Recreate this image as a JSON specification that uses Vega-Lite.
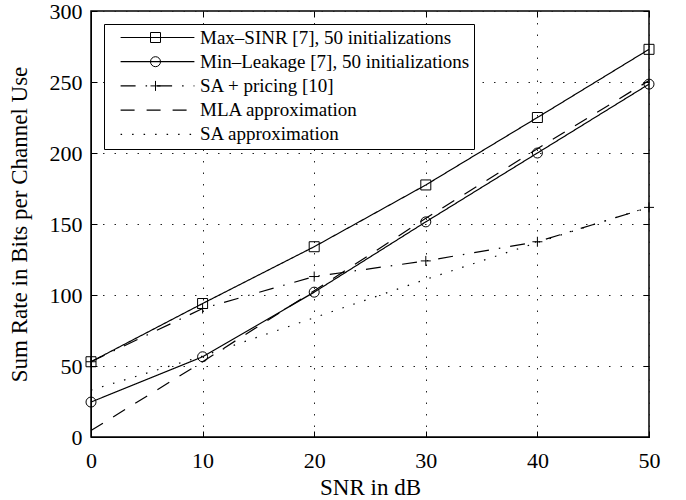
{
  "$schema": "https://vega.github.io/schema/vega-lite/v6.json",
  "width": 558,
  "height": 426,
  "autosize": "none",
  "padding": {"left": 91, "top": 11, "right": 37, "bottom": 63},
  "background": "white",
  "config": {
    "view": {"stroke": "black", "strokeWidth": 1.5},
    "font": "Liberation Serif",
    "axis": {
      "labelFont": "Liberation Serif",
      "titleFont": "Liberation Serif",
      "labelFontSize": 22,
      "titleFontSize": 23,
      "titleFontWeight": "normal",
      "labelColor": "black",
      "titleColor": "black",
      "domainColor": "black",
      "tickColor": "black",
      "tickWidth": 1,
      "labelFlush": false,
      "gridColor": "#222222",
      "gridOpacity": 1,
      "gridDash": [1.5, 10],
      "gridWidth": 1
    }
  },
  "data": {
    "values": [
      {"series": "Max–SINR [7], 50 initializations", "snr": 0, "rate": 53},
      {"series": "Max–SINR [7], 50 initializations", "snr": 10, "rate": 94},
      {"series": "Max–SINR [7], 50 initializations", "snr": 20, "rate": 134},
      {"series": "Max–SINR [7], 50 initializations", "snr": 30, "rate": 177.5},
      {"series": "Max–SINR [7], 50 initializations", "snr": 40, "rate": 225},
      {"series": "Max–SINR [7], 50 initializations", "snr": 50, "rate": 273},
      {"series": "Min–Leakage [7], 50 initializations", "snr": 0, "rate": 24.6},
      {"series": "Min–Leakage [7], 50 initializations", "snr": 10, "rate": 56.5},
      {"series": "Min–Leakage [7], 50 initializations", "snr": 20, "rate": 102},
      {"series": "Min–Leakage [7], 50 initializations", "snr": 30, "rate": 151.5},
      {"series": "Min–Leakage [7], 50 initializations", "snr": 40, "rate": 200},
      {"series": "Min–Leakage [7], 50 initializations", "snr": 50, "rate": 248.5},
      {"series": "SA + pricing [10]", "snr": 0, "rate": 53},
      {"series": "SA + pricing [10]", "snr": 10, "rate": 90.5},
      {"series": "SA + pricing [10]", "snr": 20, "rate": 113},
      {"series": "SA + pricing [10]", "snr": 30, "rate": 124},
      {"series": "SA + pricing [10]", "snr": 40, "rate": 137.5},
      {"series": "SA + pricing [10]", "snr": 50, "rate": 161.7},
      {"series": "MLA approximation", "snr": 0, "rate": 4.5},
      {"series": "MLA approximation", "snr": 10, "rate": 53},
      {"series": "MLA approximation", "snr": 20, "rate": 103},
      {"series": "MLA approximation", "snr": 30, "rate": 154},
      {"series": "MLA approximation", "snr": 40, "rate": 203},
      {"series": "MLA approximation", "snr": 50, "rate": 251},
      {"series": "SA approximation", "snr": 0, "rate": 33},
      {"series": "SA approximation", "snr": 10, "rate": 57},
      {"series": "SA approximation", "snr": 20, "rate": 84},
      {"series": "SA approximation", "snr": 30, "rate": 111},
      {"series": "SA approximation", "snr": 40, "rate": 137},
      {"series": "SA approximation", "snr": 50, "rate": 162}
    ]
  },
  "layer": [
    {
      "mark": {"type": "line", "color": "black", "strokeWidth": 1.2},
      "encoding": {
        "x": {
          "field": "snr", "type": "quantitative",
          "scale": {"domain": [0, 50], "nice": false, "zero": false},
          "axis": {
            "orient": "bottom", "title": "SNR in dB",
            "values": [0, 10, 20, 30, 40, 50],
            "grid": true, "tickSize": -6, "labelPadding": 19, "titlePadding": 5
          }
        },
        "y": {
          "field": "rate", "type": "quantitative",
          "scale": {"domain": [0, 300], "nice": false},
          "axis": {
            "orient": "left", "title": "Sum Rate in Bits per Channel Use",
            "values": [0, 50, 100, 150, 200, 250, 300],
            "grid": true, "tickSize": -6, "labelPadding": 15, "titlePadding": 18
          }
        },
        "detail": {"field": "series"},
        "strokeDash": {
          "field": "series", "type": "nominal",
          "scale": {
            "domain": ["Max–SINR [7], 50 initializations", "Min–Leakage [7], 50 initializations", "SA + pricing [10]", "MLA approximation", "SA approximation"],
            "range": [[1, 0], [1, 0], [15, 10, 1.5, 10], [14, 12], [1.5, 10]]
          },
          "legend": {
            "orient": "none", "legendX": 13, "legendY": 13,
            "title": null,
            "symbolType": "M-8.2,0H8.2",
            "symbolSize": 81,
            "symbolStrokeWidth": 1.2,
            "symbolStrokeColor": "black",
            "labelFont": "Liberation Serif",
            "labelFontSize": 19,
            "labelColor": "black",
            "labelLimit": 400,
            "rowPadding": 4.2,
            "padding": 4,
            "strokeColor": "black",
            "fillColor": "white",
            "symbolOffset": 40,
            "labelOffset": 33
          }
        }
      }
    },
    {
      "mark": {"type": "point", "filled": false, "color": "black", "size": 100, "strokeWidth": 1, "opacity": 1},
      "encoding": {
        "x": {
          "field": "snr", "type": "quantitative",
          "axis": {
            "orient": "top", "title": null, "labels": false, "domain": false,
            "values": [0, 10, 20, 30, 40, 50], "grid": false, "tickSize": -6
          }
        },
        "y": {
          "field": "rate", "type": "quantitative",
          "axis": {
            "orient": "right", "title": null, "labels": false, "domain": false,
            "values": [0, 50, 100, 150, 200, 250, 300], "grid": false, "tickSize": -6
          }
        },
        "shape": {
          "field": "series", "type": "nominal",
          "scale": {
            "domain": ["Max–SINR [7], 50 initializations", "Min–Leakage [7], 50 initializations", "SA + pricing [10]", "MLA approximation", "SA approximation"],
            "range": ["square", "circle", "M-1,0H1M0,-1V1", "M0,0", "M0,0"]
          },
          "legend": {
            "orient": "top-left", "offset": 13,
            "title": null,
            "symbolSize": 100,
            "symbolStrokeWidth": 1,
            "symbolStrokeColor": "black",
            "symbolFillColor": "transparent",
            "labelFont": "Liberation Serif",
            "labelFontSize": 19,
            "labelColor": "transparent",
            "labelExpr": "' '",
            "labelLimit": 400,
            "rowPadding": 4.2,
            "padding": 4,
            "symbolOffset": 38,
            "labelOffset": 33
          }
        }
      }
    }
  ],
  "resolve": {"axis": {"x": "independent", "y": "independent"}}
}
